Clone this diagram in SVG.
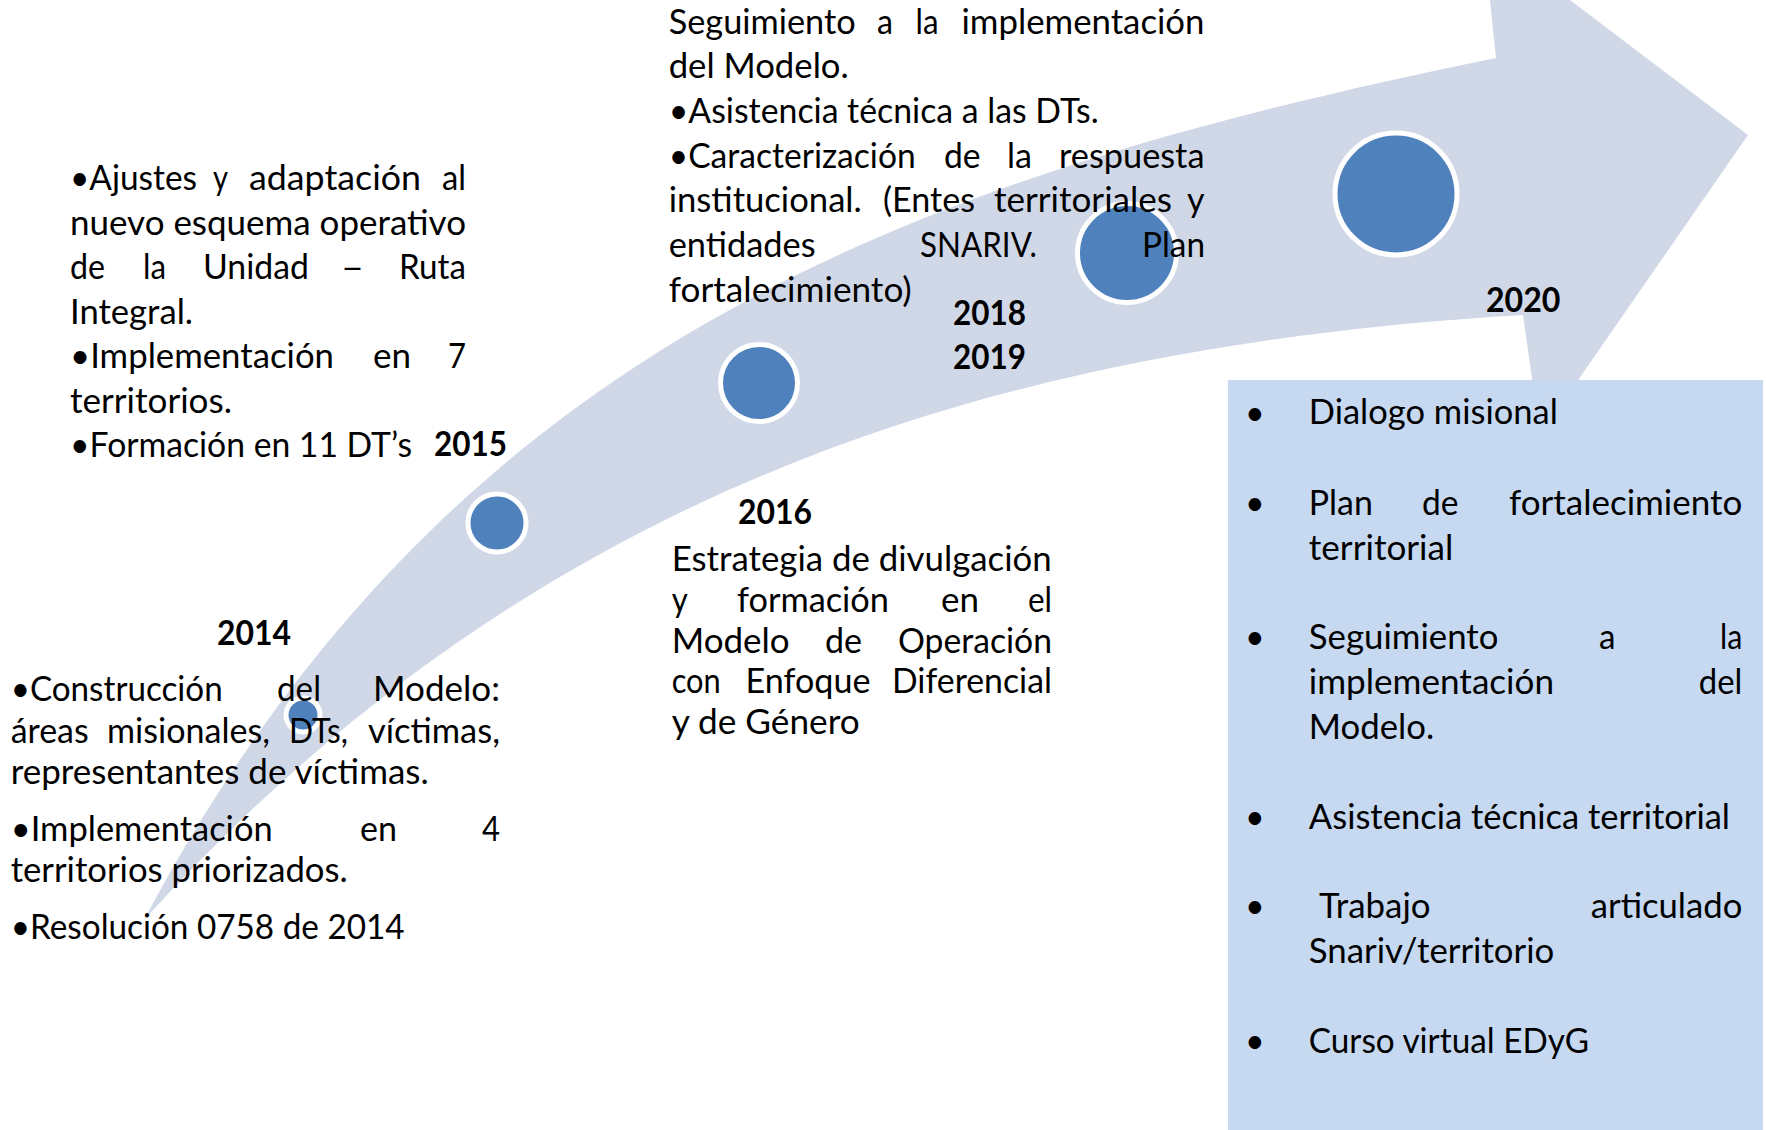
<svg xmlns="http://www.w3.org/2000/svg" width="1766" height="1130" viewBox="0 0 1766 1130">
<style>
.t{font-family:Lato,"Liberation Sans",sans-serif;font-size:34px;fill:#000}
.b{font-weight:700}
.dot{fill:#4f81bd;stroke:#fff;stroke-width:5}
.bl{font-size:34px}
</style>
<rect width="1766" height="1130" fill="#fff"/>
<g id="connectors">
<path id="timeline-arrow" d="M144,920 C449,346 908,178 1496,58 L1483,-66 L1748,135 L1540,435 L1523,315 C964,348 519,506 144,920 Z" fill="#d0d8e8"/>
</g>
<g id="n2014">
<circle class="dot" cx="303" cy="715" r="17" stroke-width="3.5"/>
<text class="t b" x="217" y="645" textLength="74" lengthAdjust="spacingAndGlyphs">2014</text>
<text class="t" x="10.7" y="701" textLength="212" lengthAdjust="spacingAndGlyphs">•Construcción</text>
<text class="t" x="277" y="701" textLength="44" lengthAdjust="spacingAndGlyphs">del</text>
<text class="t" x="373" y="701" textLength="127" lengthAdjust="spacingAndGlyphs">Modelo:</text>
<text class="t" x="10.7" y="743" textLength="78" lengthAdjust="spacingAndGlyphs">áreas</text>
<text class="t" x="107" y="743" textLength="163" lengthAdjust="spacingAndGlyphs">misionales,</text>
<text class="t" x="289" y="743" textLength="59" lengthAdjust="spacingAndGlyphs">DTs,</text>
<text class="t" x="368" y="743" textLength="132" lengthAdjust="spacingAndGlyphs">víctimas,</text>
<text class="t" x="10.7" y="784" textLength="418" lengthAdjust="spacingAndGlyphs">representantes de víctimas.</text>
<text class="t" x="10.7" y="841" textLength="262" lengthAdjust="spacingAndGlyphs">•Implementación</text>
<text class="t" x="360" y="841" textLength="37" lengthAdjust="spacingAndGlyphs">en</text>
<text class="t" x="482" y="841" textLength="18" lengthAdjust="spacingAndGlyphs">4</text>
<text class="t" x="10.7" y="882" textLength="337" lengthAdjust="spacingAndGlyphs">territorios priorizados.</text>
<text class="t" x="10.7" y="939" textLength="394" lengthAdjust="spacingAndGlyphs">•Resolución 0758 de 2014</text>
</g>
<g id="n2015">
<circle class="dot" cx="497" cy="523" r="29"/>
<text class="t" x="70" y="190" textLength="127" lengthAdjust="spacingAndGlyphs">•Ajustes</text>
<text class="t" x="213" y="190" textLength="15" lengthAdjust="spacingAndGlyphs">y</text>
<text class="t" x="249" y="190" textLength="172" lengthAdjust="spacingAndGlyphs">adaptación</text>
<text class="t" x="442" y="190" textLength="24" lengthAdjust="spacingAndGlyphs">al</text>
<text class="t" x="70" y="234.5" textLength="396" lengthAdjust="spacingAndGlyphs">nuevo esquema operativo</text>
<text class="t" x="70" y="279" textLength="35" lengthAdjust="spacingAndGlyphs">de</text>
<text class="t" x="143" y="279" textLength="23" lengthAdjust="spacingAndGlyphs">la</text>
<text class="t" x="203" y="279" textLength="106" lengthAdjust="spacingAndGlyphs">Unidad</text>
<text class="t" x="341" y="279" textLength="23" lengthAdjust="spacingAndGlyphs">–</text>
<text class="t" x="399" y="279" textLength="67" lengthAdjust="spacingAndGlyphs">Ruta</text>
<text class="t" x="70" y="323.5" textLength="123" lengthAdjust="spacingAndGlyphs">Integral.</text>
<text class="t" x="70" y="368" textLength="264" lengthAdjust="spacingAndGlyphs">•Implementación</text>
<text class="t" x="373" y="368" textLength="38" lengthAdjust="spacingAndGlyphs">en</text>
<text class="t" x="448" y="368" textLength="18" lengthAdjust="spacingAndGlyphs">7</text>
<text class="t" x="70" y="412.5" textLength="162" lengthAdjust="spacingAndGlyphs">territorios.</text>
<text class="t" x="70" y="457" textLength="342" lengthAdjust="spacingAndGlyphs">•Formación en 11 DT’s</text>
<text class="t b" x="434" y="456" textLength="73" lengthAdjust="spacingAndGlyphs">2015</text>
</g>
<g id="n2016">
<circle class="dot" cx="759" cy="383" r="38.5"/>
<text class="t b" x="738" y="523.5" textLength="74" lengthAdjust="spacingAndGlyphs">2016</text>
<text class="t" x="671.7" y="571" textLength="380" lengthAdjust="spacingAndGlyphs">Estrategia de divulgación</text>
<text class="t" x="671.7" y="611.8" textLength="16" lengthAdjust="spacingAndGlyphs">y</text>
<text class="t" x="737" y="611.8" textLength="152" lengthAdjust="spacingAndGlyphs">formación</text>
<text class="t" x="941" y="611.8" textLength="38" lengthAdjust="spacingAndGlyphs">en</text>
<text class="t" x="1028" y="611.8" textLength="24" lengthAdjust="spacingAndGlyphs">el</text>
<text class="t" x="671.7" y="652.6" textLength="118" lengthAdjust="spacingAndGlyphs">Modelo</text>
<text class="t" x="825" y="652.6" textLength="37" lengthAdjust="spacingAndGlyphs">de</text>
<text class="t" x="898" y="652.6" textLength="154" lengthAdjust="spacingAndGlyphs">Operación</text>
<text class="t" x="671.7" y="693.4" textLength="49" lengthAdjust="spacingAndGlyphs">con</text>
<text class="t" x="745.5" y="693.4" textLength="125" lengthAdjust="spacingAndGlyphs">Enfoque</text>
<text class="t" x="892" y="693.4" textLength="160" lengthAdjust="spacingAndGlyphs">Diferencial</text>
<text class="t" x="671.7" y="734.2" textLength="188" lengthAdjust="spacingAndGlyphs">y de Género</text>
</g>
<g id="n2018-2019">
<circle class="dot" cx="1127" cy="253" r="49.5"/>
<text class="t" x="668.7" y="33.5" textLength="187" lengthAdjust="spacingAndGlyphs">Seguimiento</text>
<text class="t" x="877" y="33.5" textLength="16" lengthAdjust="spacingAndGlyphs">a</text>
<text class="t" x="915.5" y="33.5" textLength="23" lengthAdjust="spacingAndGlyphs">la</text>
<text class="t" x="961.5" y="33.5" textLength="243" lengthAdjust="spacingAndGlyphs">implementación</text>
<text class="t" x="668.7" y="78.2" textLength="180" lengthAdjust="spacingAndGlyphs">del Modelo.</text>
<text class="t" x="668.7" y="122.9" textLength="430" lengthAdjust="spacingAndGlyphs">•Asistencia técnica a las DTs.</text>
<text class="t" x="668.7" y="167.6" textLength="247" lengthAdjust="spacingAndGlyphs">•Caracterización</text>
<text class="t" x="944" y="167.6" textLength="36.6" lengthAdjust="spacingAndGlyphs">de</text>
<text class="t" x="1007" y="167.6" textLength="25" lengthAdjust="spacingAndGlyphs">la</text>
<text class="t" x="1059" y="167.6" textLength="145.5" lengthAdjust="spacingAndGlyphs">respuesta</text>
<text class="t" x="668.7" y="212.3" textLength="193" lengthAdjust="spacingAndGlyphs">institucional.</text>
<text class="t" x="883" y="212.3" textLength="92" lengthAdjust="spacingAndGlyphs">(Entes</text>
<text class="t" x="994" y="212.3" textLength="178" lengthAdjust="spacingAndGlyphs">territoriales</text>
<text class="t" x="1187" y="212.3" textLength="17.5" lengthAdjust="spacingAndGlyphs">y</text>
<text class="t" x="668.7" y="257" textLength="147" lengthAdjust="spacingAndGlyphs">entidades</text>
<text class="t" x="920" y="257" textLength="117" lengthAdjust="spacingAndGlyphs">SNARIV.</text>
<text class="t" x="1142" y="257" textLength="63" lengthAdjust="spacingAndGlyphs">Plan</text>
<text class="t" x="668.7" y="301.7" textLength="243" lengthAdjust="spacingAndGlyphs">fortalecimiento)</text>
<text class="t b" x="953" y="325" textLength="73" lengthAdjust="spacingAndGlyphs">2018</text>
<text class="t b" x="953" y="369" textLength="73" lengthAdjust="spacingAndGlyphs">2019</text>
</g>
<g id="n2020">
<circle class="dot" cx="1396" cy="194" r="61"/>
<text class="t b" x="1486" y="311.5" textLength="74.5" lengthAdjust="spacingAndGlyphs">2020</text>
<rect x="1228" y="380" width="535" height="750" fill="#c6d9f1"/>
<text class="t bl" x="1245" y="425">•</text>
<text class="t" x="1308.8" y="424.4" textLength="249" lengthAdjust="spacingAndGlyphs">Dialogo misional</text>
<text class="t bl" x="1245" y="515">•</text>
<text class="t" x="1308.8" y="514.5" textLength="64" lengthAdjust="spacingAndGlyphs">Plan</text>
<text class="t" x="1422" y="514.5" textLength="36.5" lengthAdjust="spacingAndGlyphs">de</text>
<text class="t" x="1509" y="514.5" textLength="233.3" lengthAdjust="spacingAndGlyphs">fortalecimiento</text>
<text class="t" x="1308.8" y="559.5" textLength="144.5" lengthAdjust="spacingAndGlyphs">territorial</text>
<text class="t bl" x="1245" y="649">•</text>
<text class="t" x="1308.8" y="648.5" textLength="189.7" lengthAdjust="spacingAndGlyphs">Seguimiento</text>
<text class="t" x="1599" y="648.5" textLength="16.5" lengthAdjust="spacingAndGlyphs">a</text>
<text class="t" x="1720" y="648.5" textLength="22.3" lengthAdjust="spacingAndGlyphs">la</text>
<text class="t" x="1308.8" y="693.5" textLength="245.2" lengthAdjust="spacingAndGlyphs">implementación</text>
<text class="t" x="1698.8" y="693.5" textLength="43.5" lengthAdjust="spacingAndGlyphs">del</text>
<text class="t" x="1308.8" y="738.6" textLength="125.4" lengthAdjust="spacingAndGlyphs">Modelo.</text>
<text class="t bl" x="1245" y="829">•</text>
<text class="t" x="1308.8" y="828.7" textLength="421.2" lengthAdjust="spacingAndGlyphs">Asistencia técnica territorial</text>
<text class="t bl" x="1245" y="918">•</text>
<text class="t" x="1319" y="917.7" textLength="111.6" lengthAdjust="spacingAndGlyphs">Trabajo</text>
<text class="t" x="1590.8" y="917.7" textLength="151.5" lengthAdjust="spacingAndGlyphs">articulado</text>
<text class="t" x="1308.8" y="962.7" textLength="245.5" lengthAdjust="spacingAndGlyphs">Snariv/territorio</text>
<text class="t bl" x="1245" y="1053">•</text>
<text class="t" x="1308.8" y="1052.8" textLength="280.3" lengthAdjust="spacingAndGlyphs">Curso virtual EDyG</text>
</g>
</svg>
